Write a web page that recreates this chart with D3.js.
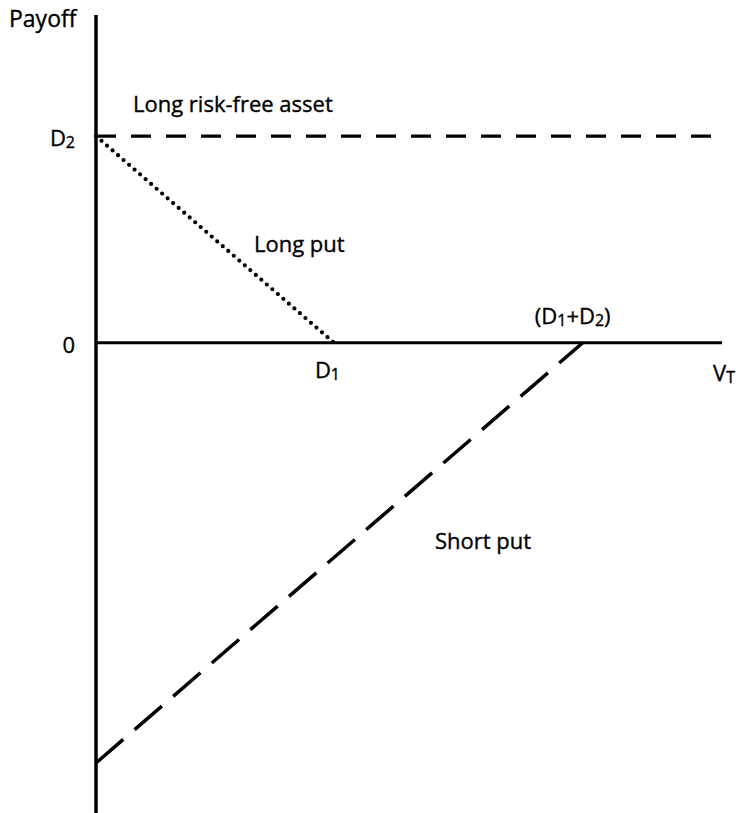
<!DOCTYPE html>
<html>
<head>
<meta charset="utf-8">
<script src="https://cdn.jsdelivr.net/npm/d3@7"></script>
<style>
  body { margin: 0; background: #fff; }
  svg text { font-family: "Open Sans", sans-serif; font-size: 22px; fill: #000; stroke: #000; stroke-width: 0.35px; }
</style>
</head>
<body>
<svg width="745" height="813"></svg>
<script>
// payoff values (chart units)
var xDomain = [0, 12.5];       // V_T range shown
var yDomain = [-9.4, 6.55];    // payoff range shown
var D1 = 4.75, D2 = 4.13, D1D2 = 9.72;

var riskFree = [[0, D2], [12.5, D2]];      // long risk-free asset
var longPut  = [[0, D2], [D1, 0]];         // long put
var shortPut = [[0, -8.4], [D1D2, 0]];     // short put

var xTickLabels = [{v: D1, main: "D", sub: "1"}];
var yTickLabels = [{v: D2, main: "D", sub: "2"}, {v: 0, main: "0", sub: ""}];

var svg = d3.select("svg"),
    width = +svg.attr("width"),
    height = +svg.attr("height");

var x = d3.scaleLinear().domain(xDomain).range([96, 722]);
var y = d3.scaleLinear().domain(yDomain).range([813, 15]);

var line = d3.line().x(d => x(d[0])).y(d => y(d[1]));

// axes
svg.append("line")
    .attr("x1", x(0)).attr("x2", x(0))
    .attr("y1", y(yDomain[1])).attr("y2", y(yDomain[0]))
    .attr("stroke", "#000").attr("stroke-width", 3.5);
svg.append("line")
    .attr("x1", x(0)).attr("x2", x(xDomain[1]))
    .attr("y1", y(0)).attr("y2", y(0))
    .attr("stroke", "#000").attr("stroke-width", 3);

// payoff lines
svg.append("path").datum(riskFree)
    .attr("d", line).attr("fill", "none")
    .attr("stroke", "#000").attr("stroke-width", 3.2)
    .attr("stroke-dasharray", "20,15");

svg.append("path").datum(longPut)
    .attr("d", line).attr("fill", "none")
    .attr("stroke", "#000").attr("stroke-width", 4.2)
    .attr("stroke-linecap", "round")
    .attr("stroke-dasharray", "0,7.3");

svg.append("path").datum(shortPut)
    .attr("d", line).attr("fill", "none")
    .attr("stroke", "#000").attr("stroke-width", 3.5)
    .attr("stroke-dasharray", "36,15");

// labels with subscripts
function subText(g, xx, yy, main, sub, anchor) {
    var t = g.append("text").attr("x", xx).attr("y", yy).attr("text-anchor", anchor || "start");
    t.append("tspan").text(main);
    if (sub) t.append("tspan").attr("font-size", "16px").attr("dy", 2).text(sub);
    return t;
}

yTickLabels.forEach(d => subText(svg, x(0) - 21, y(d.v) + 10, d.main, d.sub, "end"));
xTickLabels.forEach(d => subText(svg, x(d.v) - 19, y(0) + 35, d.main, d.sub));

// (D1+D2)
var t = svg.append("text").attr("x", x(D1D2) - 48).attr("y", y(0) - 19);
t.append("tspan").text("(D");
t.append("tspan").attr("font-size", "16px").attr("dy", 2).text("1");
t.append("tspan").attr("dy", -2).text("+D");
t.append("tspan").attr("font-size", "16px").attr("dy", 2).text("2");
t.append("tspan").attr("dy", -2).text(")");

subText(svg, 713, y(0) + 38, "V", "T");
svg.append("text").attr("x", 9).attr("y", 27).style("font-size", "23px").text("Payoff");

svg.append("text").attr("x", 133).attr("y", 112).text("Long risk-free asset");
svg.append("text").attr("x", 254).attr("y", 252).text("Long put");
svg.append("text").attr("x", 435).attr("y", 549).text("Short put");
</script>
</body>
</html>
